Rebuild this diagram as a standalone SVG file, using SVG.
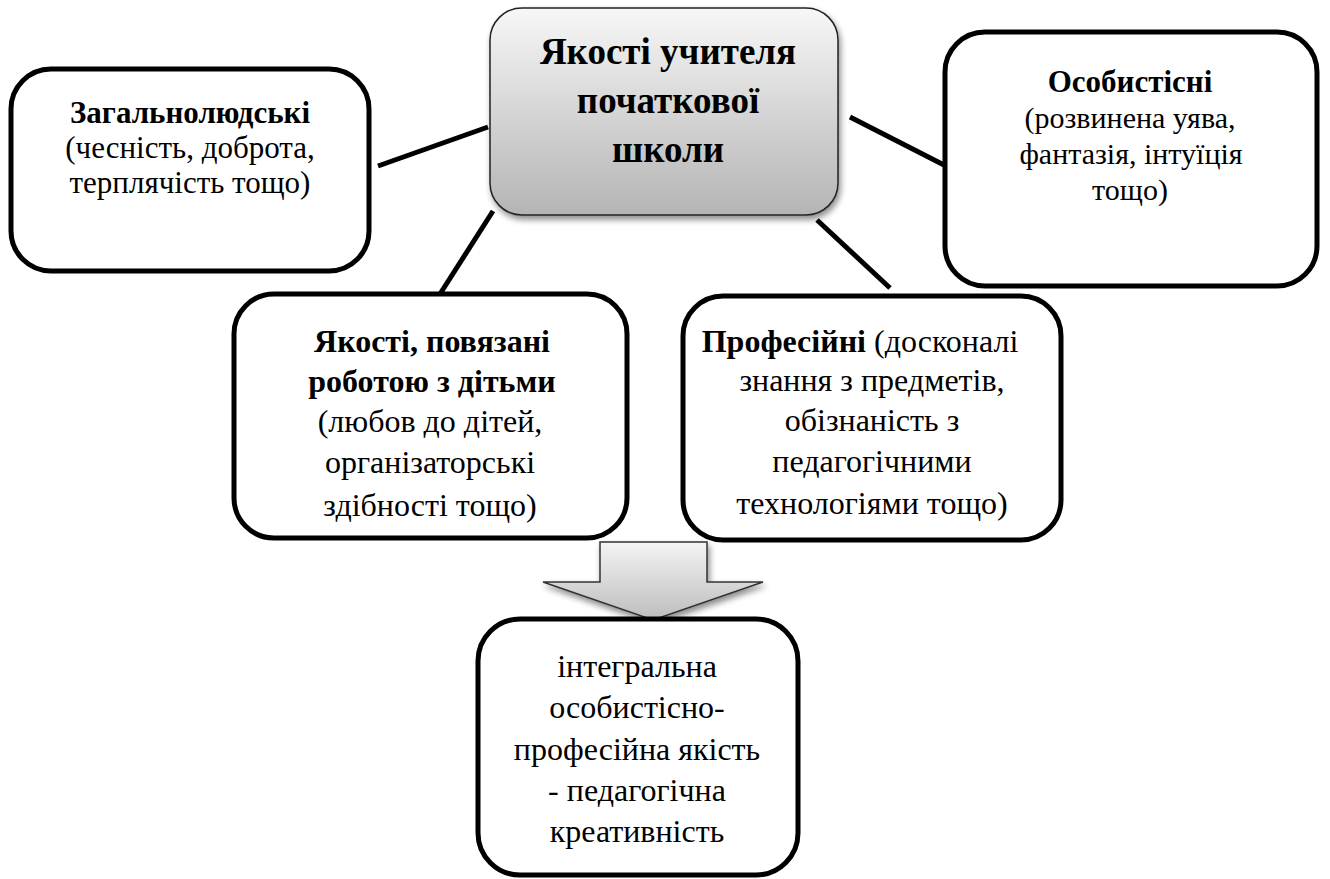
<svg xmlns="http://www.w3.org/2000/svg" width="1330" height="879" viewBox="0 0 1330 879">
<defs>
<linearGradient id="gCenter" x1="0" y1="0" x2="0" y2="1">
<stop offset="0" stop-color="#f7f7f7"/>
<stop offset="1" stop-color="#b4b4b4"/>
</linearGradient>
<linearGradient id="gArrow" x1="0" y1="0" x2="0" y2="1">
<stop offset="0" stop-color="#f4f4f4"/>
<stop offset="1" stop-color="#bdbdbd"/>
</linearGradient>
<filter id="shadow" x="-10%" y="-10%" width="125%" height="130%">
<feGaussianBlur in="SourceAlpha" stdDeviation="3"/>
<feOffset dx="2" dy="4" result="b"/>
<feComponentTransfer><feFuncA type="linear" slope="0.45"/></feComponentTransfer>
<feMerge><feMergeNode/><feMergeNode in="SourceGraphic"/></feMerge>
</filter>
<clipPath id="clipBL"><rect x="235" y="295" width="390" height="228"/></clipPath>
<clipPath id="clipBR"><rect x="684" y="297" width="376" height="226"/></clipPath>
<style>
.box{fill:#ffffff;stroke:#000000;stroke-width:5}
.t{fill:#000000;text-anchor:middle}
.b{font-weight:bold}
.conn{stroke:#000000;stroke-width:5;fill:none}
</style>
</defs>

<g id="connectors">
<line class="conn" x1="378" y1="166" x2="488" y2="127"/>
<line class="conn" x1="493" y1="211" x2="440" y2="294"/>
<line class="conn" x1="850" y1="117" x2="944" y2="165"/>
<line class="conn" x1="817" y1="220" x2="890" y2="288"/>
</g>

<g font-family="'Liberation Serif', 'DejaVu Serif', serif">
<g id="center">
<rect x="490" y="8" width="348" height="207" rx="32" fill="url(#gCenter)" stroke="#222" stroke-width="1.5" filter="url(#shadow)"/>
<text class="t b" font-size="37" x="668" y="64">Якості учителя</text>
<text class="t b" font-size="37" x="668" y="113">початкової</text>
<text class="t b" font-size="37" x="668" y="162">школи</text>
</g>

<g id="general">
<rect class="box" x="11" y="69" width="358" height="202" rx="40"/>
<text class="t b" font-size="31" x="190" y="123">Загальнолюдські</text>
<text class="t" font-size="31" x="190" y="158">(чесність, доброта,</text>
<text class="t" font-size="31" x="190" y="193">терплячість тощо)</text>
</g>

<g id="personal">
<rect class="box" x="945" y="32" width="372" height="254" rx="40"/>
<text class="t b" font-size="31" x="1130" y="92">Особистісні</text>
<text class="t" font-size="30" x="1130" y="128">(розвинена уява,</text>
<text class="t" font-size="30" x="1131" y="164">фантазія, інтуїція</text>
<text class="t" font-size="30" x="1130" y="200">тощо)</text>
</g>

<g id="children">
<rect class="box" x="234" y="294" width="393" height="244" rx="40"/>
<g clip-path="url(#clipBL)">
<text class="t b" font-size="32" x="432" y="352">Якості, повязані</text>
<text class="t b" font-size="32" x="432" y="392">роботою з дітьми</text>
<text class="t" font-size="32" x="430" y="432">(любов до дітей,</text>
<text class="t" font-size="32" x="430" y="473">організаторські</text>
<text class="t" font-size="32" x="430" y="516">здібності тощо)</text>
</g>
</g>

<g id="professional">
<rect class="box" x="683" y="296" width="378" height="244" rx="40"/>
<g clip-path="url(#clipBR)">
<text class="t" font-size="32" x="860" y="352"><tspan class="b">Професійні</tspan> (досконалі</text>
<text class="t" font-size="32" x="872" y="391">знання з предметів,</text>
<text class="t" font-size="32" x="872" y="431">обізнаність з</text>
<text class="t" font-size="32" x="872" y="472">педагогічними</text>
<text class="t" font-size="32" x="872" y="514">технологіями тощо)</text>
</g>
</g>

<g id="arrow">
<path d="M600,542 L707,542 L707,582 L763,582 L653,620 L543,582 L600,582 Z" fill="url(#gArrow)" stroke="#333" stroke-width="1.5" filter="url(#shadow)"/>
</g>

<g id="result">
<rect class="box" x="478" y="619" width="320" height="256" rx="42"/>
<text class="t" font-size="32" x="637" y="677">інтегральна</text>
<text class="t" font-size="32" x="637" y="718">особистісно-</text>
<text class="t" font-size="32" x="637" y="760">професійна якість</text>
<text class="t" font-size="32" x="637" y="801">- педагогічна</text>
<text class="t" font-size="32" x="637" y="842">креативність</text>
</g>
</g>
</svg>
